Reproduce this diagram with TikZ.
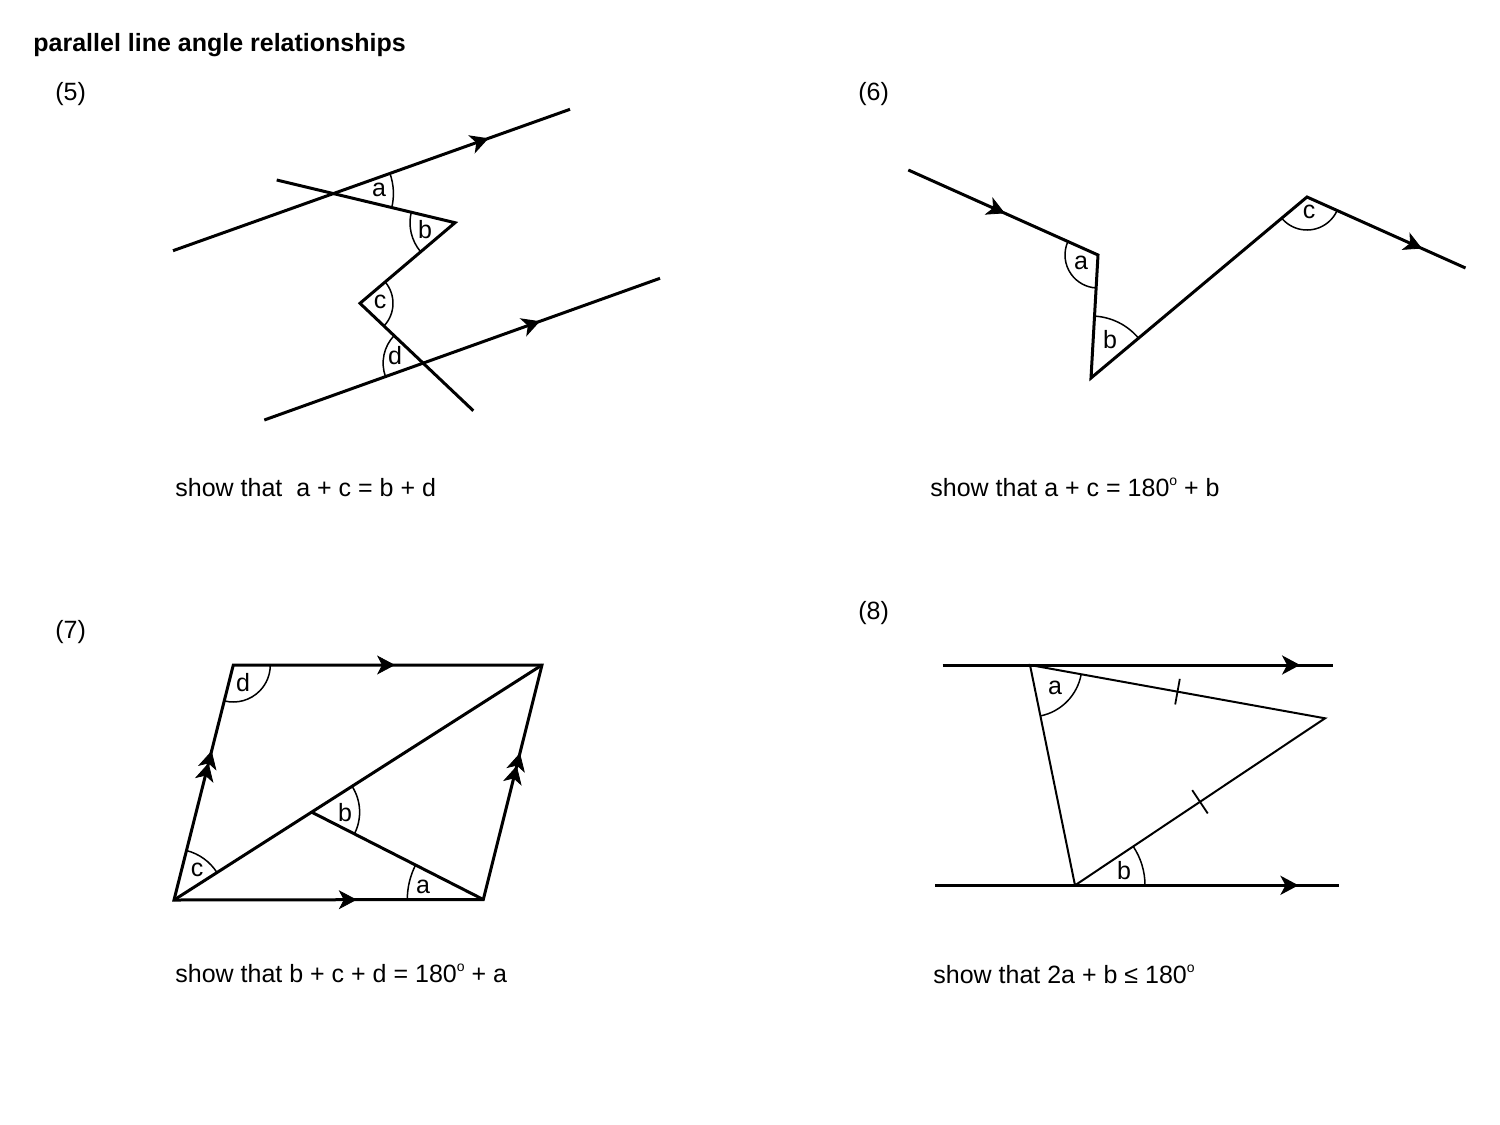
\documentclass[tikz,border=0pt]{standalone}
\usepackage{fontspec}
\setmainfont{Liberation Sans}
\usetikzlibrary{arrows.meta,decorations.markings,angles,calc}
\newcommand{\degsup}{{\fontsize{7}{8}\selectfont\raisebox{5.2pt}{o}}}
\tikzset{
  geo/.style={line width=1.5pt},
  thin geo/.style={line width=1pt},
  arcline/.style={draw, line width=0.75pt},
  tiptip/.tip={Stealth[length=9pt,width=9.5pt,inset=2.5pt]},
  arr/.style={postaction={decorate}, decoration={markings,
      mark=at position #1 with {\arrow{tiptip}}}},
  darr/.style 2 args={postaction={decorate}, decoration={markings,
      mark=at position #1 with {\arrow{tiptip}},
      mark=at position #2 with {\arrow{tiptip}}}},
  txt/.style={anchor=base west, inner sep=0pt, font=\fontsize{12.5}{15}\selectfont},
  lab/.style={inner sep=0pt, font=\fontsize{12.5}{15}\selectfont},
}
\begin{document}
\begin{tikzpicture}[x=0.5pt,y=0.5pt]
\useasboundingbox (0,-1125) rectangle (1500,0);

% headings
\node[txt, font=\fontsize{12.5}{15}\selectfont\bfseries] (title) at (33,-51) {parallel line angle relationships};
\node[txt] (n5) at (55,-100) {(5)};
\node[txt] (n6) at (858,-100) {(6)};
\node[txt] (n7) at (55,-638) {(7)};
\node[txt] (n8) at (858,-619) {(8)};

% ---------- (5)
\coordinate (U1) at (173,-250.7);
\coordinate (U2) at (570,-109.3);
\coordinate (L1) at (264.3,-420);
\coordinate (L2) at (660,-278.3);
\coordinate (Z0) at (276.7,-180);
\coordinate (Z1) at (455,-222.7);
\coordinate (Z2) at (360,-303.3);
\coordinate (Z3) at (473.3,-410.7);
\coordinate (X1) at (intersection of U1--U2 and Z0--Z1);
\coordinate (X2) at (intersection of L1--L2 and Z2--Z3);
\draw[geo, arr=0.795] (U1) -- (U2);
\draw[geo, arr=0.697] (L1) -- (L2);
\draw[geo] (Z0) -- (Z1) -- (Z2) -- (Z3);
\pic[arcline, angle radius=30pt] {angle = Z1--X1--U2};
\pic[arcline, angle radius=22.5pt] {angle = Z0--Z1--Z2};
\pic[arcline, angle radius=16.5pt] {angle = Z3--Z2--Z1};
\pic[arcline, angle radius=20pt] {angle = Z2--X2--L1};
\node[lab] (la5) at (379,-190) {a};
\node[lab] (lb5) at (425,-230) {b};
\node[lab] (lc5) at (380,-302) {c};
\node[lab] (ld5) at (395,-356) {d};
\node[txt] (t5) at (175,-496) {show that~ a + c = b + d};

% ---------- (6)
\coordinate (S) at (908.3,-170);
\coordinate (A) at (1098,-255);
\coordinate (B) at (1091,-378);
\coordinate (C) at (1307,-197);
\coordinate (E) at (1465.5,-268);
\draw[geo] (S) -- (A) -- (B) -- (C) -- (E);
\path[arr=0.51] (S) -- (A);
\path[arr=0.726] (C) -- (E);
\pic[arcline, angle radius=16.5pt] {angle = S--A--B};
\pic[arcline, angle radius=31pt] {angle = C--B--A};
\pic[arcline, angle radius=16.5pt] {angle = B--C--E};
\node[lab] (la6) at (1081,-263) {a};
\node[lab] (lb6) at (1110,-340) {b};
\node[lab] (lc6) at (1309,-212) {c};
\node[txt] (t6) at (930,-496) {show that a + c = 180\degsup{} + b};

% ---------- (7)
\coordinate (P0) at (174,-900);
\coordinate (P1) at (233.3,-665);
\coordinate (P2) at (542,-665);
\coordinate (P3) at (483.3,-899.5);
\coordinate (M) at ($(P0)!0.374!(P2)$);
\draw[geo] (P0) -- (P1) -- (P2) -- (P3) -- cycle;
\draw[geo] (P0) -- (P2);
\draw[geo] (M) -- (P3);
\path[arr=0.524] (P1) -- (P2);
\path[arr=0.591] (P0) -- (P3);
\path[darr={0.583}{0.635}] (P0) -- (P1);
\path[darr={0.57}{0.625}] (P3) -- (P2);
\pic[arcline, angle radius=18.5pt] {angle = P0--P1--P2};
\pic[arcline, angle radius=25.5pt] {angle = P2--P0--P1};
\pic[arcline, angle radius=24pt] {angle = P3--M--P2};
\pic[arcline, angle radius=38pt] {angle = M--P3--P0};
\node[lab] (ld7) at (243,-683) {d};
\node[lab] (lc7) at (197,-870) {c};
\node[lab] (lb7) at (345,-813) {b};
\node[lab] (la7) at (423,-887) {a};
\node[txt] (t7) at (175,-982) {show that b + c + d = 180\degsup{} + a};

% ---------- (8)
\coordinate (H1) at (942.7,-665);
\coordinate (H2) at (1333.3,-665);
\coordinate (K1) at (935,-885.3);
\coordinate (K2) at (1339.3,-885.3);
\coordinate (T1) at (1030,-665);
\coordinate (T2) at (1325,-718.3);
\coordinate (T3) at (1075,-885.3);
\draw[geo, arr=0.915] (H1) -- (H2);
\draw[geo, arr=0.899] (K1) -- (K2);
\draw[thin geo] (T1) -- (T2) -- (T3) -- cycle;
\coordinate (m1) at ($(T1)!0.5!(T2)$);
\coordinate (m2) at ($(T2)!0.5!(T3)$);
\draw[line width=0.9pt] ($(m1)!6.5pt!90:(T2)$) -- ($(m1)!6.5pt!-90:(T2)$);
\draw[line width=0.9pt] ($(m2)!7pt!90:(T3)$) -- ($(m2)!7pt!-90:(T3)$);
\pic[arcline, angle radius=26pt] {angle = T3--T1--T2};
\pic[arcline, angle radius=35pt] {angle = K2--T3--T2};
\node[lab] (la8) at (1055,-688) {a};
\node[lab] (lb8) at (1124,-871) {b};
\node[txt] (t8) at (933,-983) {show that 2a + b ≤ 180\degsup};
\end{tikzpicture}
\end{document}
